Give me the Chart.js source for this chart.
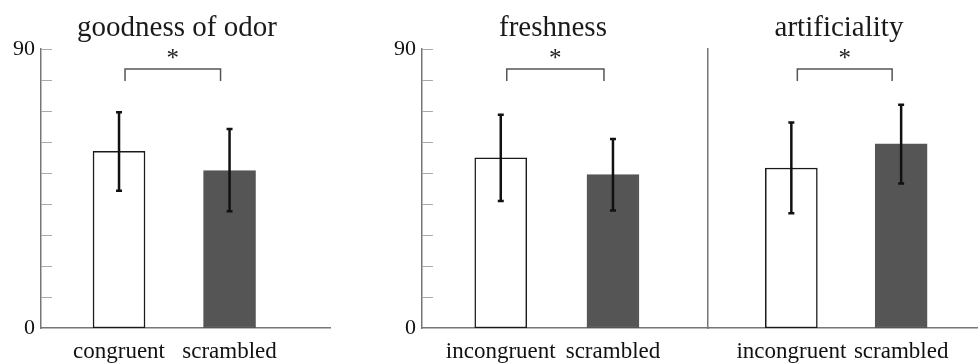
<!DOCTYPE html>
<html>
<head>
<meta charset="utf-8">
<script src="https://cdn.jsdelivr.net/npm/chart.js@4"></script>
<style>
  html, body { margin: 0; padding: 0; background: #fff; }
  #wrap { position: relative; width: 978px; height: 363px; overflow: hidden; }
  .panel { position: absolute; top: 0; height: 363px; }
  .title { position: absolute; top: 8px; width: 260px; margin-left: -130px; text-align: center;
           font-family: "Liberation Serif", serif; font-size: 29px; color: #1a1a1a; line-height: 36px; }
</style>
</head>
<body>
<div id="wrap">
  <div class="panel" style="left:0;width:331px"><canvas id="odorChart"></canvas></div>
  <div class="panel" style="left:381px;width:327px"><canvas id="freshChart"></canvas></div>
  <div class="panel" style="left:660px;width:318px"><canvas id="artChart"></canvas></div>
  <div class="title" style="left:177px">goodness of odor</div>
  <div class="title" style="left:553px">freshness</div>
  <div class="title" style="left:839px">artificiality</div>
</div>
<script>
// values (0-90 scale)
const odorLabels = ['congruent', 'scrambled'];
const odorMeans = [57.0, 50.8];
const odorLow = [44.3, 37.7];
const odorHigh = [69.6, 64.2];

const freshLabels = ['incongruent', 'scrambled'];
const freshMeans = [54.9, 49.5];
const freshLow = [41.0, 37.9];
const freshHigh = [68.8, 61.0];

const artLabels = ['incongruent', 'scrambled'];
const artMeans = [51.6, 59.4];
const artLow = [37.0, 46.6];
const artHigh = [66.3, 72.0];

const yLabelValues = [0, 90];
const sigMark = '*';

const AXIS = '#777';
const SERIF = '"Liberation Serif", serif';

// error bars, inner y ticks and significance bracket
const extrasPlugin = {
    id: 'extras',
    afterDatasetsDraw(chart) {
        const opts = chart.options.plugins.extras;
        const x = chart.scales.x, y = chart.scales.y;
        const area = chart.chartArea;
        const ctx = chart.ctx;
        ctx.save();

        if (opts.innerTicks) {
            ctx.strokeStyle = '#aaa';
            ctx.lineWidth = 1;
            y.ticks.forEach(t => {
                if (t.value === 0) return;
                const py = Math.round(y.getPixelForValue(t.value)) + 0.5;
                ctx.beginPath();
                ctx.moveTo(area.left, py);
                ctx.lineTo(area.left + 11, py);
                ctx.stroke();
            });
        }

        ctx.strokeStyle = '#111';
        ctx.lineWidth = 2.5;
        opts.low.forEach((lo, i) => {
            const px = x.getPixelForValue(i);
            const yl = y.getPixelForValue(lo), yh = y.getPixelForValue(opts.high[i]);
            ctx.beginPath();
            ctx.moveTo(px, yl); ctx.lineTo(px, yh);
            ctx.moveTo(px - 3, yl); ctx.lineTo(px + 3, yl);
            ctx.moveTo(px - 3, yh); ctx.lineTo(px + 3, yh);
            ctx.stroke();
        });

        // bracket
        const bx0 = x.getPixelForValue(0) + 6;
        const bx1 = x.getPixelForValue(1) - 9;
        const by = y.getPixelForValue(90) + 20;
        ctx.strokeStyle = '#555';
        ctx.lineWidth = 1.5;
        ctx.beginPath();
        ctx.moveTo(bx0, by + 12); ctx.lineTo(bx0, by); ctx.lineTo(bx1, by); ctx.lineTo(bx1, by + 12);
        ctx.stroke();
        ctx.fillStyle = '#222';
        ctx.font = '25px ' + SERIF;
        ctx.textAlign = 'center';
        ctx.textBaseline = 'alphabetic';
        ctx.fillText(sigMark, (bx0 + bx1) / 2, by - 3);
        ctx.restore();
    }
};

function makePanel(id, labels, means, low, high, xMin, xMax, showY, yWidth) {
    new Chart(document.getElementById(id), {
        type: 'bar',
        data: {
            datasets: [{
                data: means.map((v, i) => ({ x: i, y: v })),
                backgroundColor: ['#fff', '#555'],
                borderColor: ['#1a1a1a', '#555'],
                borderWidth: 1.5,
                borderSkipped: false,
                barThickness: 52
            }]
        },
        options: {
            responsive: true,
            maintainAspectRatio: false,
            animation: false,
            layout: { padding: { top: 49, left: 0, right: 0, bottom: 0 } },
            plugins: {
                legend: { display: false },
                tooltip: { enabled: false },
                extras: { low, high, innerTicks: showY }
            },
            scales: {
                x: {
                    type: 'linear',
                    offset: false,
                    min: xMin,
                    max: xMax,
                    afterBuildTicks: s => { s.ticks = labels.map((_, i) => ({ value: i })); },
                    afterFit: s => { s.height = 35; },
                    ticks: {
                        autoSkip: false,
                        maxRotation: 0,
                        padding: 2,
                        color: '#111',
                        font: { family: SERIF, size: 23 },
                        callback: v => labels[v]
                    },
                    grid: { display: false },
                    border: { display: true, color: AXIS, width: 1.5 }
                },
                y: {
                    min: 0,
                    max: 90,
                    afterFit: s => { s.width = yWidth; },
                    ticks: {
                        display: showY,
                        stepSize: 10,
                        autoSkip: false,
                        padding: 6,
                        color: '#111',
                        font: { family: SERIF, size: 22 },
                        callback: v => yLabelValues.includes(v) ? String(v) : ''
                    },
                    grid: { display: false, drawTicks: false },
                    border: { display: true, color: AXIS, width: 1.5 }
                }
            }
        },
        plugins: [extrasPlugin]
    });
}

makePanel('odorChart', odorLabels, odorMeans, odorLow, odorHigh, -0.706, 1.918, true, 41);
makePanel('freshChart', freshLabels, freshMeans, freshLow, freshHigh, -0.702, 1.847, true, 41);
makePanel('artChart', artLabels, artMeans, artLow, artHigh, -0.759, 1.70, false, 48);
</script>
</body>
</html>
